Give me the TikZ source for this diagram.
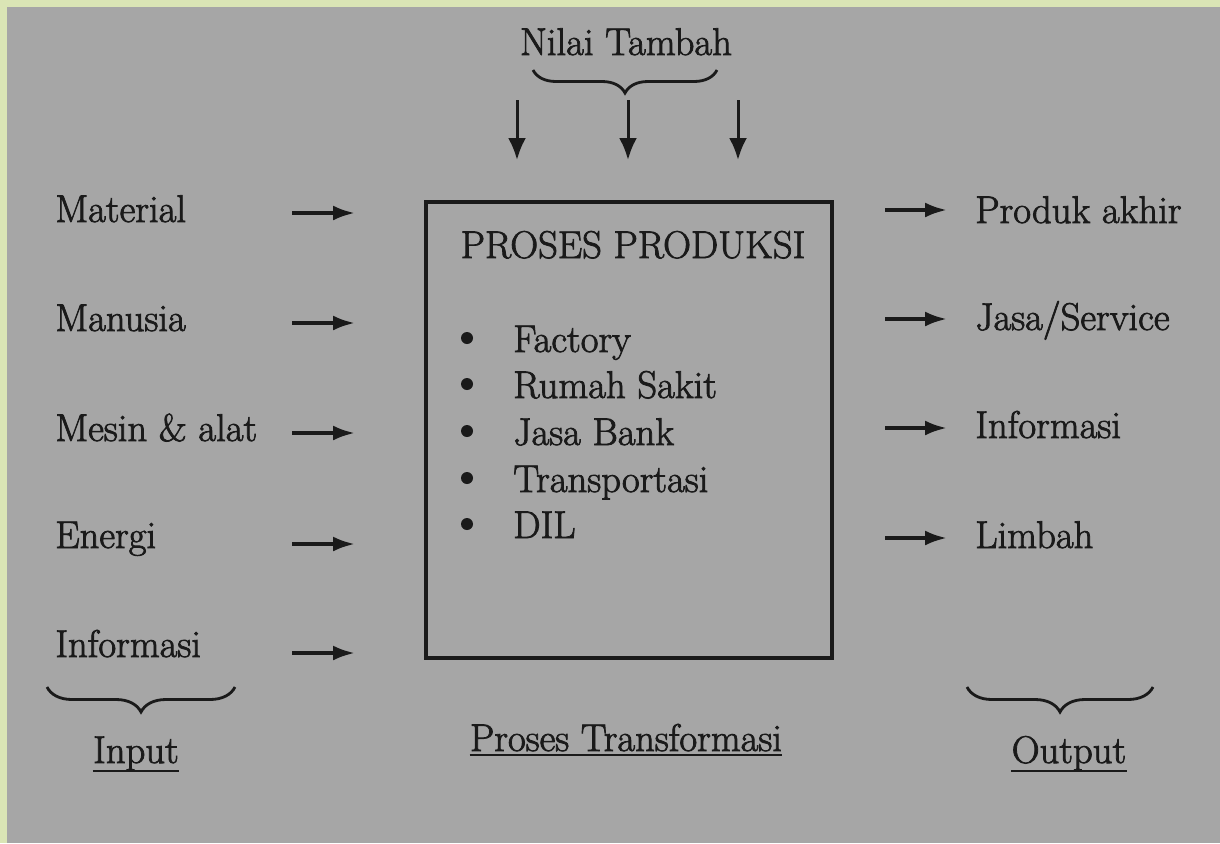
\documentclass[tikz,border=0pt]{standalone}
\usepackage{fontspec}
\setmainfont{Latin Modern Roman}[FakeBold=2]
\usepackage{xcolor}
\usepackage{tikz}
\usetikzlibrary{arrows.meta}
\usetikzlibrary{calc}
\usetikzlibrary{positioning}
\usetikzlibrary{decorations.pathreplacing}

\definecolor{scangray}{RGB}{166,166,166}
\definecolor{framegreen}{RGB}{218,229,181}
\definecolor{inkdark}{RGB}{26,26,26}

\begin{document}
\begin{tikzpicture}[
    x=0.02cm, y=-0.02cm,
    % styles
    every node/.style={font=\fontsize{22}{26}\selectfont, text=inkdark, inner sep=0pt},
    flow/.style={inkdark, line width=2.1pt, -{Latex[length=0.44cm, width=0.3cm]}},
    drop/.style={inkdark, line width=1.7pt, -{Latex[length=0.44cm, width=0.36cm]}},
    curly/.style={inkdark, line width=1.6pt, decorate, decoration={brace, mirror, amplitude=#1}},
    uline/.style={inkdark, line width=0.8pt},
    frame/.style={draw=inkdark, line width=2.1pt, minimum width=8.12cm, minimum height=9.12cm}]

    % background
    \useasboundingbox (0,0) rectangle (1220,843);
    \fill [framegreen] (0,0) rectangle (1220,843);
    \fill [scangray] (7,7) rectangle (1220,843);

    % box
    \node [frame] (produksi) at (629,430) {};
    \node [anchor=base] (judul) at (633,258) {PROSES PRODUKSI};
    \foreach \y/\txt [count=\i] in {
      352/Factory, 398/Rumah Sakit, 445/Jasa Bank, 492/Transportasi, 538/DIL
    } {
      \node [anchor=base west] (item\i) at (513,\y) {\txt};
      \fill [inkdark] (467,\y-14) circle [radius=0.12cm];
    }

    % value added
    \node [anchor=base] (nilai) at (626,55) {Nilai Tambah};
    \coordinate (nilaiL) at (533,70);
    \coordinate (nilaiR) at (717,70);
    \draw [curly=0.46cm] (nilaiL) -- (nilaiR);
    \foreach \x [count=\i] in {517, 628, 738} {
      \coordinate (topa\i) at (\x,100);
      \coordinate (topb\i) at (\x,160);
      \draw [drop] (topa\i) -- (topb\i);
    }

    % input
    \foreach \y/\ay/\txt [count=\i] in {
      222/213/Material, 331/323/Manusia, 441/433/Mesin \& alat,
      548/544/Energi, 657/653/Informasi
    } {
      \node [anchor=base west] (in\i) at (55,\y) {\txt};
      \coordinate (ina\i) at (292,\ay);
      \coordinate (inb\i) at (355,\ay);
      \draw [flow] (ina\i) -- (inb\i);
    }

    % output
    \foreach \y/\ay/\txt [count=\i] in {
      223/210/Produk akhir, 330/319/{Jasa/Service}, 438/428/Informasi, 548/538/Limbah
    } {
      \node [anchor=base west] (out\i) at (975,\y) {\txt};
      \coordinate (outa\i) at (885,\ay);
      \coordinate (outb\i) at (947,\ay);
      \draw [flow] (outa\i) -- (outb\i);
    }

    % captions
    \coordinate (inL) at (47,687);
    \coordinate (inR) at (235,687);
    \draw [curly=0.5cm] (inL) -- (inR);
    \coordinate (outL) at (967,687);
    \coordinate (outR) at (1153,687);
    \draw [curly=0.5cm] (outL) -- (outR);

    \node [anchor=base] (input) at (136,763) {Input};
    \node [anchor=base] (output) at (1069,763) {Output};
    \node [anchor=base] (transformasi) at (626,751) {Proses Transformasi};
    \draw [uline] ([yshift=-0.16cm]input.base west) -- ([yshift=-0.16cm]input.base east);
    \draw [uline] ([yshift=-0.16cm]output.base west) -- ([yshift=-0.16cm]output.base east);
    \draw [uline] ([yshift=-0.08cm]transformasi.base west) -- ([yshift=-0.08cm]transformasi.base east);

  \end{tikzpicture}
\end{document}
